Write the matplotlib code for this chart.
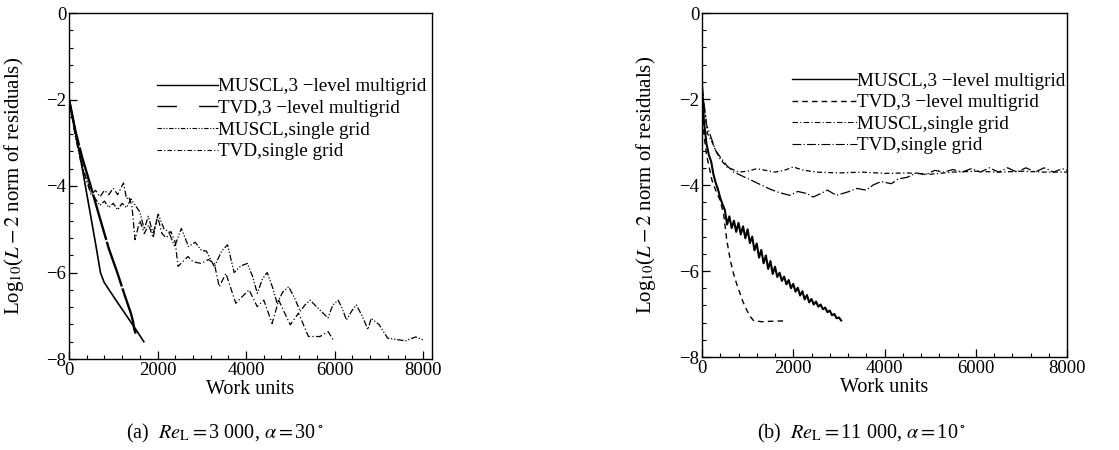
import numpy as np
import matplotlib.pyplot as plt
from matplotlib.ticker import MultipleLocator
from matplotlib.lines import Line2D

plt.rcParams['font.family'] = ['Liberation Serif', 'DejaVu Serif']
plt.rcParams['mathtext.fontset'] = 'stix'
plt.rcParams['axes.unicode_minus'] = True

labels = ["MUSCL,3 \u2212level multigrid", "TVD,3 \u2212level multigrid",
          "MUSCL,single grid", "TVD,single grid"]

# ---- (a) Re_L = 3000, alpha = 30 deg ----
a_mus3_w = [0, 120, 250, 370, 500, 620, 710, 790, 950, 1100, 1300, 1500, 1690]
a_mus3_y = [-1.95, -2.6, -3.3, -4.0, -4.75, -5.45, -6.0, -6.22, -6.47, -6.7, -7.0, -7.3, -7.6]

a_tvd3_w = [0, 150, 300, 490, 700, 900, 1090, 1250, 1400, 1450, 1470, 1520]
a_tvd3_y = [-2.0, -2.75, -3.35, -4.0, -4.75, -5.45, -6.0, -6.5, -6.95, -7.15, -7.3, -7.45]

a_mus1_w = [0, 150, 300, 400, 500, 600, 700, 800, 900, 1000, 1100, 1200, 1300, 1400, 1500,
            1600, 1700, 1790, 1900, 2015, 2150, 2250, 2387, 2537, 2700, 2850, 3000, 3100,
            3283, 3450, 3581, 3730, 3880, 4029, 4150, 4253, 4370, 4477, 4600, 4701, 4830,
            4962, 5100, 5222, 5330, 5446, 5650, 5850, 5960, 6080, 6180, 6267, 6380, 6490,
            6620, 6752, 6826, 7000, 7200, 7400, 7600, 7834, 8000]
a_mus1_y = [-2.0, -2.9, -3.6, -3.85, -4.15, -4.3, -4.45, -4.35, -4.5, -4.4, -4.55, -4.4,
            -4.5, -4.3, -4.45, -4.6, -5.0, -4.7, -5.1, -4.65, -5.0, -5.05, -5.4, -4.98,
            -5.4, -5.3, -5.5, -5.5, -5.87, -5.5, -5.36, -6.0, -5.85, -5.79, -6.1, -6.48,
            -6.15, -6.0, -6.35, -6.71, -6.45, -6.33, -6.6, -6.9, -6.75, -6.64, -6.85, -7.05,
            -6.75, -6.64, -6.85, -7.1, -6.9, -6.75, -7.0, -7.32, -7.06, -7.2, -7.52, -7.55,
            -7.58, -7.49, -7.56]

a_tvd1_w = [0, 150, 300, 400, 500, 600, 700, 800, 900, 1000, 1100, 1231, 1300, 1350, 1420,
            1492, 1600, 1700, 1800, 1900, 2000, 2100, 2200, 2300, 2400, 2462, 2686, 2800,
            2984, 3150, 3282, 3394, 3544, 3767, 4066, 4252, 4401, 4588, 4737, 4998, 5185,
            5408, 5670, 5856, 5968]
a_tvd1_y = [-2.0, -2.85, -3.5, -3.9, -4.2, -4.1, -4.25, -4.1, -4.2, -4.05, -4.2, -3.93,
            -4.3, -4.25, -4.45, -5.24, -4.8, -5.1, -4.9, -5.2, -4.7, -5.1, -5.2, -5.05,
            -5.3, -5.86, -5.63, -5.75, -5.79, -5.7, -5.79, -6.33, -6.02, -6.71, -6.4, -6.79,
            -6.64, -7.18, -6.64, -7.21, -6.94, -7.48, -7.48, -7.37, -7.56]

# ---- (b) Re_L = 11000, alpha = 10 deg ----
b_mus3_w = [0, 40, 100, 150, 200, 250, 300, 350, 400, 450,
            500, 550, 600, 650, 700, 750, 800, 850, 900, 950, 1000, 1050, 1100, 1150,
            1200, 1250, 1300, 1350, 1400, 1450, 1500, 1550, 1600, 1650, 1700, 1750, 1800,
            1850, 1900, 1950, 2000, 2050, 2100, 2150, 2200, 2250, 2300, 2350, 2400, 2450,
            2500, 2550, 2600, 2650, 2700, 2750, 2800, 2850, 2900, 2950, 3000, 3050]
b_mus3_y = [-1.65, -2.5, -3.05, -3.3, -3.45, -3.75, -3.95, -4.1, -4.3, -4.45,
            -4.58, -4.92, -4.73, -5.0, -4.83, -5.09, -4.88, -5.15, -4.96, -5.24, -5.03,
            -5.35, -5.2, -5.52, -5.36, -5.69, -5.51, -5.82, -5.64, -5.95, -5.77, -6.07,
            -5.9, -6.14, -6.04, -6.23, -6.13, -6.31, -6.21, -6.4, -6.3, -6.48, -6.39,
            -6.57, -6.47, -6.66, -6.56, -6.73, -6.65, -6.78, -6.71, -6.83, -6.78, -6.89,
            -6.85, -6.96, -6.92, -7.03, -7.0, -7.1, -7.08, -7.15]

b_tvd3_w = [0, 50, 100, 218, 330, 400, 473, 545, 620, 691, 760, 836, 900, 981, 1050,
            1127, 1300, 1500, 1781]
b_tvd3_y = [-2.25, -2.9, -3.3, -3.89, -4.2, -4.36, -4.67, -5.29, -5.75, -6.06, -6.3,
            -6.53, -6.72, -6.91, -7.05, -7.15, -7.18, -7.17, -7.16]

b_mus1_w = [0, 60, 120, 220, 300, 400, 545, 700, 800, 1000, 1200, 1400, 1600, 1800, 2000,
            2200, 2500, 3000, 3500, 4000, 4500, 5000, 5500, 6000, 6500, 7000, 7500, 8000]
b_mus1_y = [-1.7, -2.3, -2.8, -3.0, -3.2, -3.4, -3.58, -3.65, -3.7, -3.68, -3.62, -3.66,
            -3.7, -3.66, -3.58, -3.65, -3.7, -3.72, -3.7, -3.73, -3.72, -3.75, -3.7,
            -3.68, -3.7, -3.68, -3.7, -3.7]

b_tvd1_w = [0, 100, 218, 300, 400, 545, 700, 1000, 1300, 1500, 1700, 1927, 2100, 2300,
            2436, 2600, 2750, 2945, 3200, 3400, 3600, 3750, 3927, 4150, 4300, 4500, 4700,
            4909, 5100, 5300, 5500, 5700, 5900, 6100, 6300, 6500, 6700, 6900, 7100, 7300,
            7500, 7700, 7900, 8000]
b_tvd1_y = [-1.7, -2.6, -2.95, -3.2, -3.35, -3.55, -3.7, -3.85, -4.0, -4.1, -4.18, -4.24,
            -4.15, -4.2, -4.28, -4.2, -4.12, -4.24, -4.16, -4.08, -4.12, -4.0, -3.92,
            -3.97, -3.86, -3.82, -3.72, -3.76, -3.66, -3.7, -3.64, -3.7, -3.62, -3.7,
            -3.6, -3.7, -3.6, -3.7, -3.6, -3.7, -3.6, -3.7, -3.62, -3.66]

fig = plt.figure(figsize=(11.19, 4.5), dpi=100)
ax1 = fig.add_axes([69 / 1119, 1 - 359 / 450, 363 / 1119, 346 / 450])
ax2 = fig.add_axes([702 / 1119, 1 - 357 / 450, 365 / 1119, 344 / 450])

ax1.plot(a_mus3_w, a_mus3_y, color='k', lw=1.2)
ax1.plot(a_tvd3_w, a_tvd3_y, color='k', lw=1.7, dashes=(20, 0.8))
ax1.plot(a_mus1_w, a_mus1_y, color='k', lw=0.9, dashes=(5, 1.5, 1, 1.5, 1, 1.5))
ax1.plot(a_tvd1_w, a_tvd1_y, color='k', lw=0.9, dashes=(5, 2, 1, 2))

ax2.plot(b_mus3_w, b_mus3_y, color='k', lw=1.5)
ax2.plot(b_tvd3_w, b_tvd3_y, color='k', lw=1.0, dashes=(4, 3))
ax2.plot(b_mus1_w, b_mus1_y, color='k', lw=0.9, dashes=(4, 2, 1, 2))
ax2.plot(b_tvd1_w, b_tvd1_y, color='k', lw=0.9, dashes=(8, 2, 1, 2))

for ax, xmax in ((ax1, 8200), (ax2, 8000)):
    ax.set_xlim(0, xmax)
    ax.set_ylim(-8, 0)
    ax.xaxis.set_major_locator(MultipleLocator(2000))
    ax.xaxis.set_minor_locator(MultipleLocator(400))
    ax.yaxis.set_major_locator(MultipleLocator(2))
    ax.yaxis.set_minor_locator(MultipleLocator(0.4))
    ax.tick_params(which='both', direction='in', top=False, right=False,
                   labelsize=13.5, pad=2)
    ax.tick_params(which='major', length=6, width=0.9)
    ax.tick_params(which='minor', length=3, width=0.8)
    for s in ax.spines.values():
        s.set_linewidth(1.0)
    ax.set_xlabel("Work units", fontsize=14.5)
    ax.set_ylabel(r"Log$_{10}$($L-2$ norm of residuals)", fontsize=15)
    ax.xaxis.set_label_coords(0.5, -0.06)

ax1.yaxis.set_label_coords(-0.118, 0.5)
ax2.yaxis.set_label_coords(-0.12, 0.5)

# legend handles
h_a = [Line2D([], [], color='k', lw=1.0),
       Line2D([], [], color='k', lw=1.0, dashes=(14, 16)),
       Line2D([], [], color='k', lw=0.8, dashes=(4, 1.5, 1, 1.5, 1, 1.5)),
       Line2D([], [], color='k', lw=0.8, dashes=(4, 2, 1, 2))]
h_b = [Line2D([], [], color='k', lw=1.0),
       Line2D([], [], color='k', lw=1.0, dashes=(4, 3)),
       Line2D([], [], color='k', lw=0.8, dashes=(5, 2, 1, 2)),
       Line2D([], [], color='k', lw=0.8, dashes=(8, 2, 1, 2))]

leg_kw = dict(loc='upper left', frameon=False, fontsize=13.8, handletextpad=0.0,
              labelspacing=0.22, borderpad=0, borderaxespad=0)
ax1.legend(h_a, labels, bbox_to_anchor=(0.242, 0.812), handlelength=3.2, **leg_kw)
ax2.legend(h_b, labels, bbox_to_anchor=(0.247, 0.828), handlelength=3.4, **leg_kw)

fig.text(225 / 1119, 1 - 433 / 450, r"(a)  $Re_{\rm L}$$=$3 000, $\alpha$$=$30$^\circ$",
         ha='center', va='center', fontsize=14.5)
fig.text(861 / 1119, 1 - 433 / 450, r"(b)  $Re_{\rm L}$$=$11 000, $\alpha$$=$10$^\circ$",
         ha='center', va='center', fontsize=14.5)

fig.savefig("out.png", dpi=100)
